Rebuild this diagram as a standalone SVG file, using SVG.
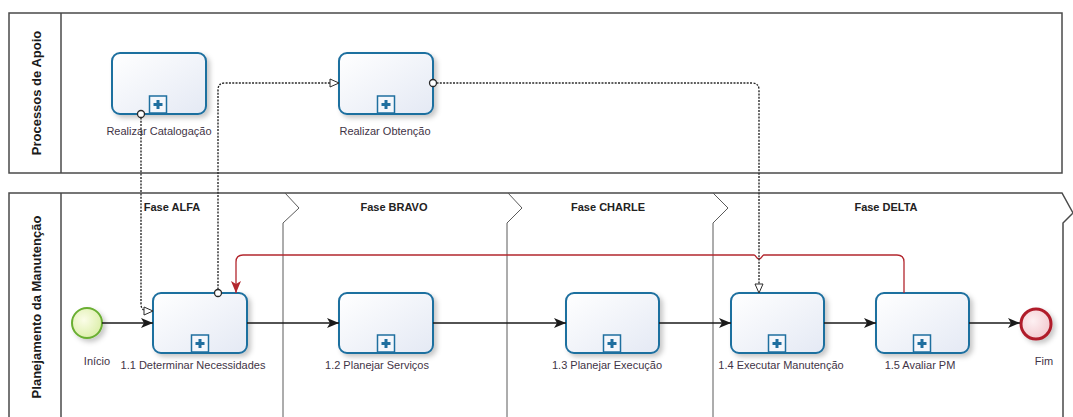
<svg xmlns="http://www.w3.org/2000/svg" width="1073" height="417" viewBox="0 0 1073 417">
  <style>
    .pool { fill: none; stroke: #4a4a4a; stroke-width: 1.5; }
    .phase { fill: none; stroke: #5a5a5a; stroke-width: 1; }
    .lane-title { font-family: "Liberation Sans", Arial, sans-serif; font-size: 13px; font-weight: bold; fill: #1a1a1a; text-anchor: middle; }
    .phase-title { font-family: "Liberation Sans", Arial, sans-serif; font-size: 11px; font-weight: bold; fill: #222; text-anchor: middle; }
    .label { font-family: "Liberation Sans", Arial, sans-serif; font-size: 11px; fill: #3f3446; text-anchor: middle; }
    .task { fill: url(#taskFill); stroke: #1f6f9f; stroke-width: 2; filter: url(#shadow); }
    .marker-box { fill: #f4f7fc; stroke: #1f6f9f; stroke-width: 1.5; }
    .marker-plus { stroke: #1f6f9f; stroke-width: 3; }
    .seq { fill: none; stroke: #1a1a1a; stroke-width: 1.3; marker-end: url(#arrow); }
    .loop { fill: none; stroke: #b3272e; stroke-width: 1.3; marker-end: url(#arrowRed); }
    .msg { fill: none; stroke: #2a2a2a; stroke-width: 1.4; stroke-dasharray: 2 1.3; marker-end: url(#openArrow); }
    .msg-start { fill: #fff; stroke: #2a2a2a; stroke-width: 1.3; }
  </style>
  <defs>
    <linearGradient id="taskFill" x1="0" y1="0" x2="1" y2="1">
      <stop offset="0" stop-color="#ffffff"/>
      <stop offset="1" stop-color="#e4e9f4"/>
    </linearGradient>
    <radialGradient id="startFill" cx="0.4" cy="0.4" r="0.7">
      <stop offset="0" stop-color="#fbfde8"/>
      <stop offset="1" stop-color="#d9eda3"/>
    </radialGradient>
    <radialGradient id="endFill" cx="0.4" cy="0.4" r="0.7">
      <stop offset="0" stop-color="#fdf0f2"/>
      <stop offset="1" stop-color="#f2c6cc"/>
    </radialGradient>
    <filter id="shadow" x="-20%" y="-20%" width="150%" height="150%">
      <feDropShadow dx="3" dy="3" stdDeviation="2.5" flood-color="#000" flood-opacity="0.22"/>
    </filter>
    <marker id="arrow" markerUnits="userSpaceOnUse" markerWidth="12" markerHeight="10" refX="12" refY="5" orient="auto">
      <path d="M0,0 L12,5 L0,10 L3,5 z" fill="#1a1a1a"/>
    </marker>
    <marker id="arrowRed" markerUnits="userSpaceOnUse" markerWidth="12" markerHeight="10" refX="12" refY="5" orient="auto">
      <path d="M0,0 L12,5 L0,10 L3,5 z" fill="#b3272e"/>
    </marker>
    <marker id="openArrow" markerUnits="userSpaceOnUse" markerWidth="11" markerHeight="10" refX="10" refY="5" orient="auto">
      <path d="M1,1 L10,5 L1,9 z" fill="#fff" stroke="#2a2a2a" stroke-width="1"/>
    </marker>
    <g id="subMarker">
      <rect class="marker-box" x="-8.5" y="-17" width="17" height="17"/>
      <path class="marker-plus" d="M-4.5,-8.5 H4.5 M0,-13 V-4"/>
    </g>
  </defs>

  <rect width="1073" height="417" fill="#ffffff"/>

  <!-- Pool: Processos de Apoio -->
  <g id="pool-apoio">
    <rect class="pool" x="9" y="13" width="1053" height="160"/>
    <line class="pool" x1="61" y1="13" x2="61" y2="173"/>
    <text class="lane-title" transform="translate(41,93) rotate(-90)">Processos de Apoio</text>
  </g>

  <!-- Pool: Planejamento da Manutenção -->
  <g id="pool-planejamento">
    <path class="pool" d="M9,417 V193 H1062 L1073,213 L1063,223 V417"/>
    <line class="pool" x1="61" y1="193" x2="61" y2="417"/>
    <text class="lane-title" transform="translate(41,307) rotate(-90)">Planejamento da Manutenção</text>
  </g>

  <!-- Phases -->
  <g id="phases">
    <path class="phase" d="M285,193 L299,208 L283,223 V417"/>
    <path class="phase" d="M508,193 L522,208 L507,223 V417"/>
    <path class="phase" d="M713,193 L728,208 L713,223 V417"/>
    <text class="phase-title" x="172" y="211">Fase ALFA</text>
    <text class="phase-title" x="394" y="211">Fase BRAVO</text>
    <text class="phase-title" x="608" y="211">Fase CHARLE</text>
    <text class="phase-title" x="886" y="211">Fase DELTA</text>
  </g>

  <!-- Support processes -->
  <g id="realizar-catalogacao">
    <rect class="task" x="112" y="53" width="94" height="61" rx="8"/>
    <use href="#subMarker" x="158" y="113"/>
    <text class="label" x="159" y="135">Realizar Catalogação</text>
  </g>
  <g id="realizar-obtencao">
    <rect class="task" x="339" y="53" width="94" height="61" rx="8"/>
    <use href="#subMarker" x="386" y="113"/>
    <text class="label" x="385" y="135">Realizar Obtenção</text>
  </g>

  <!-- Start event -->
  <g id="inicio">
    <circle cx="87" cy="323" r="15" fill="url(#startFill)" stroke="#6aaf32" stroke-width="2" filter="url(#shadow)"/>
    <text class="label" x="97" y="365">Início</text>
  </g>

  <!-- Main tasks -->
  <g id="t11">
    <rect class="task" x="153" y="293" width="94" height="60" rx="8"/>
    <use href="#subMarker" x="200" y="352"/>
    <text class="label" x="193" y="369">1.1 Determinar Necessidades</text>
  </g>
  <g id="t12">
    <rect class="task" x="339" y="293" width="94" height="60" rx="8"/>
    <use href="#subMarker" x="386" y="352"/>
    <text class="label" x="377" y="369">1.2 Planejar Serviços</text>
  </g>
  <g id="t13">
    <rect class="task" x="566" y="293" width="93" height="60" rx="8"/>
    <use href="#subMarker" x="612" y="352"/>
    <text class="label" x="607" y="369">1.3 Planejar Execução</text>
  </g>
  <g id="t14">
    <rect class="task" x="731" y="293" width="93" height="60" rx="8"/>
    <use href="#subMarker" x="777" y="352"/>
    <text class="label" x="781" y="369">1.4 Executar Manutenção</text>
  </g>
  <g id="t15">
    <rect class="task" x="876" y="293" width="93" height="60" rx="8"/>
    <use href="#subMarker" x="922" y="352"/>
    <text class="label" x="920" y="369">1.5 Avaliar PM</text>
  </g>

  <!-- End event -->
  <g id="fim">
    <circle cx="1036" cy="324" r="15" fill="url(#endFill)" stroke="#b01d2b" stroke-width="3" filter="url(#shadow)"/>
    <text class="label" x="1044" y="365">Fim</text>
  </g>

  <!-- Connectors: sequence flows, loop-back and message flows -->
  <g id="connectors">
    <path class="seq" d="M102,323 H153"/>
    <path class="seq" d="M247,323 H339"/>
    <path class="seq" d="M433,323 H566"/>
    <path class="seq" d="M659,323 H731"/>
    <path class="seq" d="M824,323 H876"/>
    <path class="seq" d="M969,323 H1020"/>

    <path class="loop" d="M904,293 V262 Q904,255 897,255 H764 C762,255 762,259 759,259 C756,259 756,255 754,255 H243 Q236,255 236,262 V293"/>

    <path class="msg" d="M141,117.5 V304 Q141,311 148,311 H153"/>
    <circle class="msg-start" cx="141" cy="114" r="3.5"/>

    <path class="msg" d="M218,289.5 V90 Q218,83 225,83 H339"/>
    <circle class="msg-start" cx="218" cy="293" r="3.5"/>

    <path class="msg" d="M436.5,83 H752 Q759,83 759,90 V293"/>
    <circle class="msg-start" cx="433" cy="83" r="3.5"/>
  </g>
</svg>
